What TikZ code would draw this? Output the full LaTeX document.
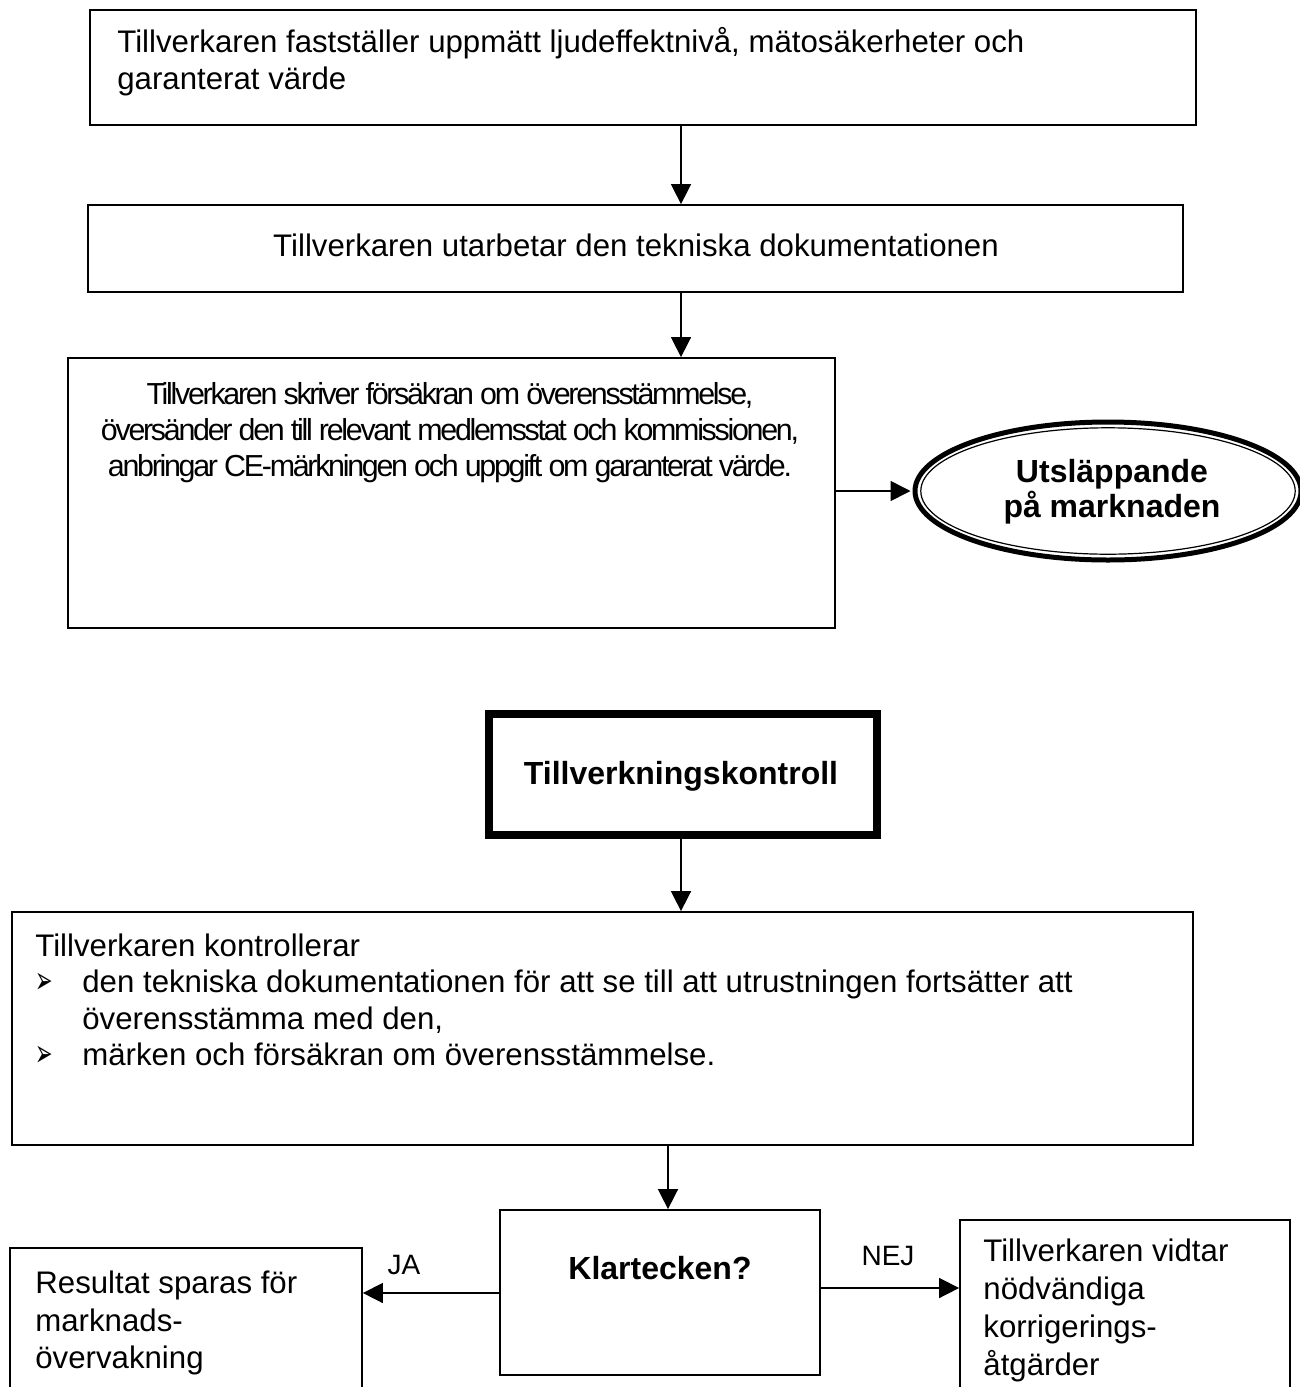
\documentclass[tikz,border=0pt]{standalone}
\usepackage{fontspec}
\setmainfont{Liberation Sans}
\newfontfamily\dejavu{DejaVu Sans}
\newfontfamily\narrowfont[LetterSpace=-7.5]{Liberation Sans}
\usetikzlibrary{shapes.geometric,arrows.meta}
\newcommand\tkbul{\makebox[23.5pt][l]{\raisebox{-0.3pt}{\scalebox{0.55}[1.0]{\dejavu\fontsize{19}{19}\selectfont ➢}}}}
\begin{document}
\begin{tikzpicture}[x=0.5pt,y=-0.5pt,
  box/.style={draw, line width=0.9pt, rectangle, inner sep=0pt},
  txt/.style={inner sep=0pt, align=left, font=\fontsize{15.6}{18.5}\selectfont},
  btxt/.style={inner sep=0pt, align=center, font=\fontsize{16}{17.5}\selectfont\bfseries},
  conn/.style={line width=0.8pt, -{Triangle[length=10pt,width=10pt]}},
]
\useasboundingbox (0,0) rectangle (1300,1387);
\clip (0,0) rectangle (1300,1387);

% boxes
\node[box, minimum width=553pt, minimum height=57.5pt] (b1) at (643,67.5) {};
\node[box, minimum width=547.5pt, minimum height=43.5pt] (b2) at (635.5,248.5) {};
\node[box, minimum width=383.5pt, minimum height=135pt] (b3) at (451.5,493) {};
\node[draw, ellipse, line width=2.5pt, minimum width=193pt, minimum height=69pt, inner sep=0pt] (ell) at (1108,491) {};
\draw[line width=0.6pt] (ell.center) ellipse [x radius=93.6pt, y radius=31.6pt];
\node[draw, line width=4pt, rectangle, inner sep=0pt, minimum width=194pt, minimum height=60.5pt] (tk) at (683,774.5) {};
\node[box, minimum width=590.5pt, minimum height=116.5pt] (b5) at (602.5,1028.5) {};
\node[box, minimum width=160pt, minimum height=82.5pt] (kl) at (660,1292.5) {};
\node[box, minimum width=176pt, minimum height=81pt] (lb) at (186,1329) {};
\node[box, minimum width=165pt, minimum height=95pt] (rb) at (1125,1315) {};

% texts
\node[txt, anchor=west] (t1) at (117,62) {Tillverkaren fastställer uppmätt ljudeffektnivå, mätosäkerheter och\\garanterat värde};
\node[txt] (t2) at (636,245) {Tillverkaren utarbetar den tekniska dokumentationen};
\node[inner sep=0pt, align=center, font=\fontsize{15.2}{18}\narrowfont] (t3) at (450,433) {Tillverkaren skriver försäkran om överensstämmelse,\\översänder den till relevant medlemsstat och kommissionen,\\anbringar CE-märkningen och uppgift om garanterat värde.};
\node[btxt] (t4) at (1112,492) {Utsläppande\\på marknaden};
\node[btxt] (t5) at (681,776) {Tillverkningskontroll};
\node[txt, anchor=west, font=\fontsize{15.6}{18.3}\selectfont] (t6) at (35,1000) {Tillverkaren kontrollerar\\\tkbul den tekniska dokumentationen för att se till att utrustningen fortsätter att\\\hspace*{23.5pt}överensstämma med den,\\\tkbul märken och försäkran om överensstämmelse.};
\node[btxt] (t7) at (660,1268) {Klartecken?};
\node[txt, anchor=west, font=\fontsize{15.6}{18.75}\selectfont] (t8) at (35,1323) {Resultat sparas för\\marknads-\\övervakning};
\node[txt, anchor=west, font=\fontsize{15.6}{19}\selectfont] (t9) at (983,1310) {Tillverkaren vidtar\\nödvändiga\\korrigerings-\\åtgärder};
\node[txt, font=\fontsize{14}{16}\selectfont] (ja) at (404,1265) {JA};
\node[txt, font=\fontsize{14}{16}\selectfont] (nej) at (888,1256) {NEJ};

% connectors
\coordinate (c1) at (681,0);
\coordinate (c2) at (668,0);
\coordinate (cy1) at (0,1293);
\coordinate (cy2) at (0,1288);
\draw[conn] (b1.south -| c1) -- (b2.north -| c1);
\draw[conn] (b2.south -| c1) -- (b3.north -| c1);
\draw[conn, shorten >=1pt] (b3.east |- ell.west) -- (ell.west);
\draw[conn] (tk.south -| c1) -- (b5.north -| c1);
\draw[conn] (b5.south -| c2) -- (kl.north -| c2);
\draw[conn] (kl.west |- cy1) -- (lb.east |- cy1);
\draw[conn] (kl.east |- cy2) -- (rb.west |- cy2);
\end{tikzpicture}
\end{document}
